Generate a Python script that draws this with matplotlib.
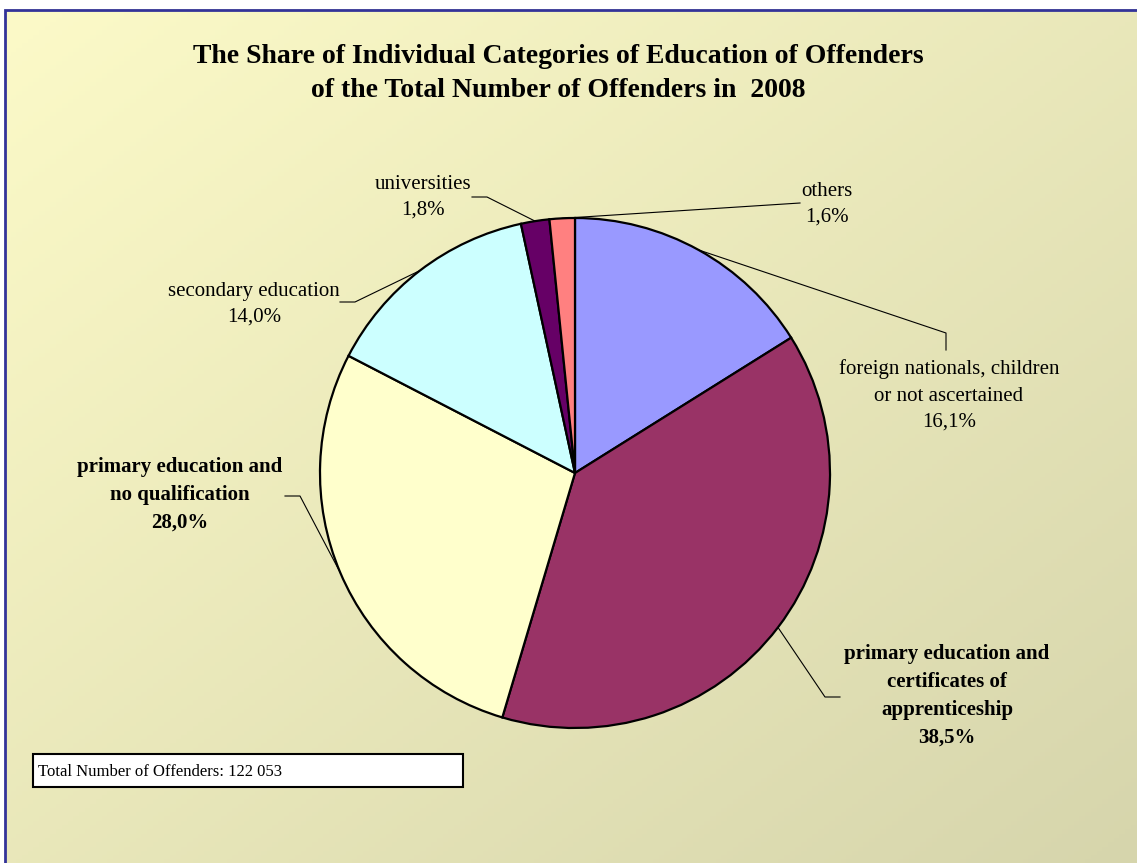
import numpy as np
import matplotlib
matplotlib.use("Agg")
import matplotlib.pyplot as plt
from matplotlib.patches import Rectangle

plt.rcParams['font.family'] = ['Liberation Serif', 'DejaVu Serif']

# data
categories = ["foreign nationals, children\nor not ascertained",
              "primary education and\ncertificates of\napprenticeship",
              "primary education and\nno qualification",
              "secondary education",
              "universities",
              "others"]
shares = [16.1, 38.5, 28.0, 14.0, 1.8, 1.6]
colors = ['#9999FF', '#993366', '#FFFFCC', '#CCFFFF', '#660066', '#FF8080']
bold = [False, True, True, False, False, False]
total_offenders = "122 053"
title = ("The Share of Individual Categories of Education of Offenders\n"
         "of the Total Number of Offenders in  2008")

# layout in pixels (y measured from top)
W, H = 1137, 863
cx, cy, R = 575, 473, 255
# label position: x centre, baseline of the last line
label_pos = [(949, 427), (947, 743), (180, 528), (254, 322), (423, 215), (827, 222)]
# leader line knots (outer end first), the last point goes to the wedge
leaders = [[(946, 350), (946, 333)],
           [(840, 697), (825, 697)],
           [(285, 496), (300, 496)],
           [(340, 302), (355, 302)],
           [(472, 197), (487, 197)],
           [(800, 203)]]

fig = plt.figure(figsize=(W / 100, H / 100), dpi=100)
fig.patch.set_facecolor('white')
ax = fig.add_axes([0, 0, 1, 1])

def Y(y):
    return H - y

# background gradient inside the border
n = 200
gx, gy = np.meshgrid(np.linspace(0, 1, n), np.linspace(0, 1, n))
t = (gx + gy) / 2
c0 = np.array([252, 250, 200]) / 255
c1 = np.array([214, 213, 172]) / 255
grad = c0[None, None, :] * (1 - t[..., None]) + c1[None, None, :] * t[..., None]
ax.imshow(grad, extent=(5, W + 5, -5, Y(10)), origin='upper', aspect='auto', zorder=0)
ax.add_patch(Rectangle((5, -10), W + 10, H, fill=False, edgecolor='#333399',
                       linewidth=2.0, zorder=1))

wedges, _ = ax.pie(shares, colors=colors, startangle=90, counterclock=False,
                   center=(cx, Y(cy)), radius=R,
                   wedgeprops=dict(edgecolor='black', linewidth=1.6))
for w in wedges:
    w.set_zorder(3)

for i, w in enumerate(wedges):
    mid = np.deg2rad((w.theta1 + w.theta2) / 2)
    px = cx + R * np.cos(mid)
    py = Y(cy) + R * np.sin(mid)
    xs = [p[0] for p in leaders[i]] + [px]
    ys = [Y(p[1]) for p in leaders[i]] + [py]
    ax.plot(xs, ys, color='black', linewidth=0.8, zorder=2)
    pct = ('%.1f' % shares[i]).replace('.', ',') + '%'
    lx, ly = label_pos[i]
    ax.text(lx, Y(ly), categories[i] + '\n' + pct, ha='center', va='baseline',
            multialignment='center', fontsize=15, linespacing=1.53,
            fontweight='bold' if bold[i] else 'normal', color='black', zorder=4)

ax.text(558, Y(97), title, ha='center', va='baseline', multialignment='center',
        fontsize=20, fontweight='bold', linespacing=1.45, zorder=4)

ax.add_patch(Rectangle((33, Y(787)), 430, 33, facecolor='white', edgecolor='black',
                       linewidth=1.5, zorder=3))
ax.text(38, Y(776), "Total Number of Offenders: " + total_offenders, ha='left',
        va='baseline', fontsize=12, zorder=4)

ax.set_xlim(0, W)
ax.set_ylim(0, H)
ax.set_aspect('auto')
ax.axis('off')

fig.savefig('out.png', dpi=100, facecolor='white')
